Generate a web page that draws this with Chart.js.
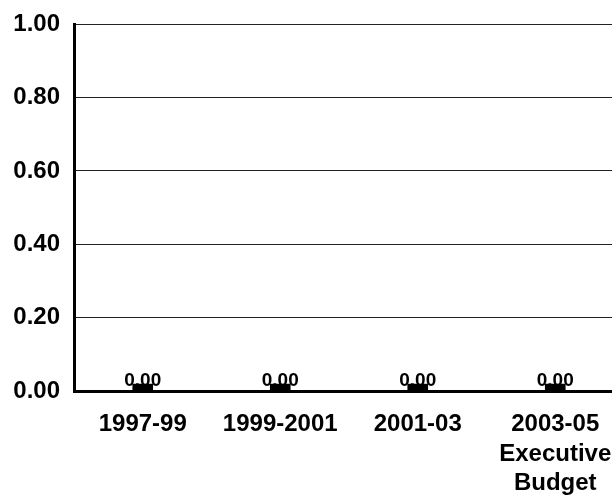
<!DOCTYPE html>
<html>
<head>
<meta charset="utf-8">
<script src="https://cdn.jsdelivr.net/npm/chart.js@4/dist/chart.umd.min.js"></script>
<style>
  html, body { margin: 0; padding: 0; background: #fff; overflow: hidden; }
  #wrap { width: 624px; height: 497px; }
</style>
</head>
<body>
<div id="wrap"><canvas id="myChart" width="624" height="497"></canvas></div>
<script>
const categories = ['1997-99', '1999-2001', '2001-03', ['2003-05', 'Executive', 'Budget']];
const values = [0.00, 0.00, 0.00, 0.00];
const yTicks = [0, 0.2, 0.4, 0.6, 0.8, 1.0];

const xFont = { family: 'Liberation Sans, Arial, sans-serif', size: 24, weight: 'bold', lineHeight: 1.22 };
const yFont = { family: 'Liberation Sans, Arial, sans-serif', size: 24, weight: 'bold', lineHeight: 0.85 };

// writes the value just above each bar
const valueLabels = {
    id: 'valueLabels',
    afterDatasetsDraw(chart) {
        const ctx = chart.ctx;
        const meta = chart.getDatasetMeta(0);
        ctx.save();
        ctx.fillStyle = '#000';
        ctx.font = 'bold 19px Liberation Sans, Arial, sans-serif';
        ctx.textAlign = 'center';
        ctx.textBaseline = 'alphabetic';
        meta.data.forEach((bar, i) => {
            ctx.fillText(values[i].toFixed(2), bar.x, bar.y + 2);
        });
        ctx.restore();
    }
};

const config = {
    type: 'bar',
    data: {
        labels: categories,
        datasets: [{
            data: values,
            backgroundColor: '#000',
            barThickness: 20,
            minBarLength: 7
        }]
    },
    options: {
        responsive: false,
        animation: false,
        layout: { padding: { top: 12, left: 0, right: 0, bottom: 0 } },
        plugins: { legend: { display: false }, tooltip: { enabled: false } },
        scales: {
            x: {
                grid: { display: false },
                border: { color: '#000', width: 3 },
                ticks: { color: '#000', font: xFont, padding: 11, maxRotation: 0, autoSkip: false },
                afterFit(scale) { scale.height = 106; }
            },
            y: {
                min: 0,
                max: 1,
                afterBuildTicks(scale) { scale.ticks = yTicks.map(v => ({ value: v })); },
                grid: { color: '#222', lineWidth: 1, drawTicks: false },
                border: { color: '#000', width: 3 },
                ticks: {
                    color: '#000',
                    font: yFont,
                    padding: 14,
                    callback: v => v.toFixed(2)
                },
                afterFit(scale) { scale.width = 74; }
            }
        }
    },
    plugins: [valueLabels]
};

new Chart(document.getElementById('myChart'), config);
</script>
</body>
</html>
